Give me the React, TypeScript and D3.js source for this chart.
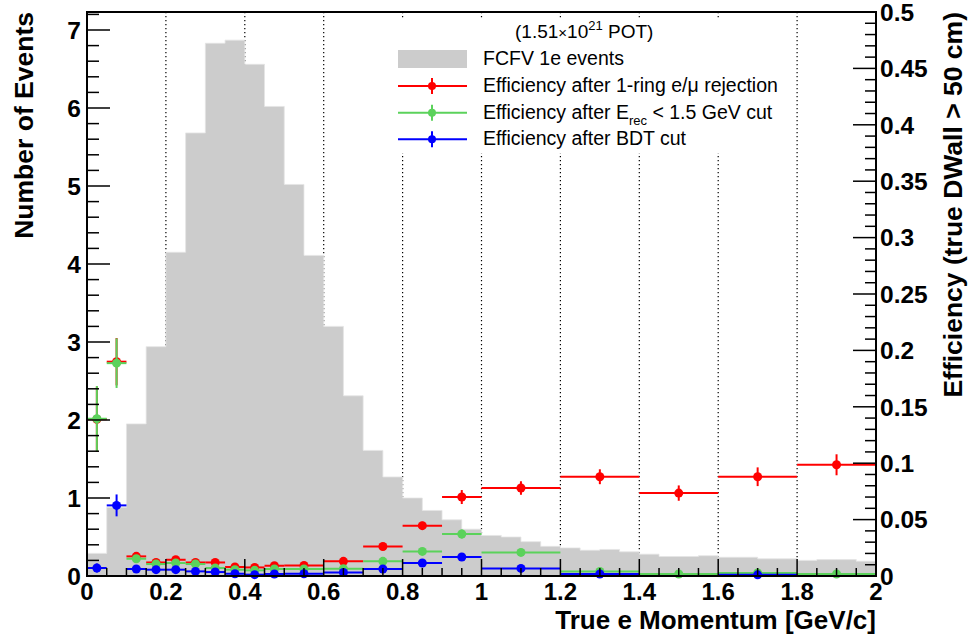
import React from "react";
import * as d3 from "d3";

// ---- data ----
const histBinWidth = 0.05;
const histCounts = [
  0.29, 0.88, 1.95, 2.94, 4.15, 5.68, 6.83, 6.87, 6.56, 6.02,
  5.02, 4.11, 3.2, 2.31, 1.61, 1.27, 1.0, 0.84, 0.72, 0.6,
  0.52, 0.5, 0.44, 0.38, 0.36, 0.33, 0.34, 0.31, 0.28, 0.25,
  0.25, 0.26, 0.24, 0.24, 0.22, 0.22, 0.2, 0.21, 0.21, 0.19,
];
const effEdges = [0, 0.05, 0.1, 0.15, 0.2, 0.25, 0.3, 0.35, 0.4, 0.45, 0.5, 0.6, 0.7, 0.8, 0.9, 1.0, 1.2, 1.4, 1.6, 1.8, 2.0];
const effRing = [0.139, 0.19, 0.0174, 0.012, 0.0144, 0.012, 0.012, 0.008, 0.0076, 0.0091, 0.0094, 0.013, 0.0262, 0.0446, 0.07, 0.078, 0.088, 0.0735, 0.088, 0.0986];
const errRing = [0.029, 0.021, 0.002, 0.0015, 0.0015, 0.0015, 0.0015, 0.0012, 0.0012, 0.0012, 0.001, 0.0015, 0.003, 0.0035, 0.0062, 0.006, 0.0066, 0.0068, 0.0083, 0.0093];
const effErec = [0.1394, 0.1887, 0.0153, 0.0106, 0.0115, 0.0106, 0.0071, 0.0056, 0.005, 0.0062, 0.0062, 0.0065, 0.013, 0.0218, 0.0372, 0.0209, 0.0041, 0.0018, 0.0027, 0.0018];
const errErec = [0.029, 0.022, 0.002, 0.0015, 0.0015, 0.0015, 0.001, 0.001, 0.001, 0.001, 0.001, 0.001, 0.002, 0.0025, 0.004, 0.002, 0.001, 0.0006, 0.001, 0.001];
const effBDT: (number | null)[] = [0.0071, 0.0626, 0.0062, 0.0056, 0.0056, 0.0041, 0.0035, 0.002, 0.0012, 0.0018, 0.002, 0.0032, 0.0062, 0.0115, 0.0168, 0.0067, 0.0018, null, 0.001, null];
const errBDT = [0.004, 0.0097, 0.001, 0.001, 0.001, 0.001, 0.001, 0.0008, 0.0006, 0.0006, 0.0006, 0.0008, 0.001, 0.0015, 0.002, 0.0012, 0.0006, 0, 0.0005, 0];
const xTicks = [0, 0.2, 0.4, 0.6, 0.8, 1, 1.2, 1.4, 1.6, 1.8, 2];
const yLeftTicks = [0, 1, 2, 3, 4, 5, 6, 7];
const yRightTicks = [0, 0.05, 0.1, 0.15, 0.2, 0.25, 0.3, 0.35, 0.4, 0.45, 0.5];
const legendLabels = ["FCFV 1e events", "Efficiency after 1-ring e/\u03bc rejection", "Efficiency after E", "Efficiency after BDT cut"];

const W = 975, H = 634;
const L = 87, R = 876, T = 12, B = 576;
const FONT = "'Liberation Sans', Arial, Helvetica, sans-serif";
const RED = "#ff0000", GREEN = "#5bd25b", BLUE = "#0000ff", GREY = "#cccccc";

export default function App() {
  const x = d3.scaleLinear().domain([0, 2]).range([L, R]);
  const yL = d3.scaleLinear().domain([0, (B - T) / 78]).range([B, T]);
  const yR = d3.scaleLinear().domain([0, 0.5]).range([B, T]);

  const histPts = histCounts.map((c, i) => ({ x: i * histBinWidth, y: c }));
  histPts.push({ x: 2, y: histCounts[histCounts.length - 1] });
  const area = d3.area<{ x: number; y: number }>()
    .x((d) => x(d.x)).y0(yL(0)).y1((d) => yL(d.y)).curve(d3.curveStepAfter);

  const series = [
    { v: effRing, e: errRing, c: RED },
    { v: effErec, e: errErec, c: GREEN },
    { v: effBDT, e: errBDT, c: BLUE },
  ];

  const xMinor = d3.range(0, 41).map((i) => i * 0.05);
  const yLMinor = d3.range(0, 37).map((i) => i * 0.2).filter((v) => yL(v) >= T);
  const yRMinor = d3.range(0, 51).map((i) => i * 0.01);
  const grid = [0.2, 0.4, 0.6, 0.8, 1, 1.2, 1.4, 1.6, 1.8];

  const fmt = (v: number) => String(+v.toFixed(2));

  const legendRows = [59, 86, 112.7, 139.3];
  const lx0 = 398, lx1 = 467, lmx = 432, ltx = 483;

  return (
    <svg width={W} height={H} style={{ position: "absolute", left: 0, top: 0, background: "#fff" }} fontFamily={FONT}>
      <rect x={0} y={0} width={W} height={H} fill="#fff" />
      {/* grid */}
      {grid.map((g) => (
        <line key={g} x1={x(g)} x2={x(g)} y1={T} y2={B} stroke="#000" strokeWidth={1.2} strokeDasharray="1.3 2.7" />
      ))}
      {/* histogram */}
      <path d={area(histPts) || ""} fill={GREY} stroke="#e4e4e4" strokeWidth={0.8} />
      {/* efficiency graphs */}
      {series.map((s, si) => (
        <g key={si}>
          {s.v.map((v, i) => {
            if (v === null) return null;
            const lo = effEdges[i], hi = effEdges[i + 1];
            const cx = x((lo + hi) / 2);
            const cy = yR(v);
            return (
              <g key={i}>
                <line x1={x(lo)} x2={x(hi)} y1={cy} y2={cy} stroke={s.c} strokeWidth={2} />
                <line x1={cx} x2={cx} y1={yR(Math.max(0, v - s.e[i]))} y2={yR(v + s.e[i])} stroke={s.c} strokeWidth={2} />
                <circle cx={cx} cy={cy} r={4.5} fill={s.c} />
              </g>
            );
          })}
        </g>
      ))}
      {/* legend */}
      <rect x={390} y={19} width={400} height={134} fill="#fff" />
      <text x={515} y={38} fontSize={19} fill="#000">
        (1.51<tspan fontSize={15}>{"\u00d7"}</tspan>10<tspan fontSize={13} dy={-8}>21</tspan>
        <tspan dy={8}>{" POT)"}</tspan>
      </text>
      <rect x={lx0} y={50} width={lx1 - lx0} height={18} fill={GREY} />
      <text x={ltx} y={legendRows[0] + 6} fontSize={19.5} fill="#000">{legendLabels[0]}</text>
      {[RED, GREEN, BLUE].map((c, i) => {
        const cy = legendRows[i + 1];
        return (
          <g key={c}>
            <line x1={lx0} x2={lx1} y1={cy} y2={cy} stroke={c} strokeWidth={2} />
            <line x1={lmx} x2={lmx} y1={cy - 8} y2={cy + 8} stroke={c} strokeWidth={2} />
            <circle cx={lmx} cy={cy} r={4} fill={c} />
          </g>
        );
      })}
      <text x={ltx} y={legendRows[1] + 6} fontSize={19.5} fill="#000">{legendLabels[1]}</text>
      <text x={ltx} y={legendRows[2] + 6} fontSize={19.5} fill="#000">
        {legendLabels[2]}<tspan fontSize={13} dy={6}>rec</tspan><tspan dy={-6}>{" < 1.5 GeV cut"}</tspan>
      </text>
      <text x={ltx} y={legendRows[3] + 6} fontSize={19.5} fill="#000">{legendLabels[3]}</text>

      {/* x axis ticks */}
      {xMinor.map((v, i) => {
        const major = i % 4 === 0;
        return <line key={i} x1={x(v)} x2={x(v)} y1={B} y2={B - (major ? 17 : 8)} stroke="#000" strokeWidth={1.5} />;
      })}
      {/* left axis ticks */}
      {yLMinor.map((v, i) => {
        const major = i % 5 === 0;
        return <line key={i} x1={L} x2={L + (major ? 23 : 12)} y1={yL(v)} y2={yL(v)} stroke="#000" strokeWidth={1.5} />;
      })}
      {/* right axis ticks */}
      {yRMinor.map((v, i) => {
        const major = i % 5 === 0;
        return <line key={i} x1={R} x2={R - (major ? 23 : 11)} y1={yR(v)} y2={yR(v)} stroke="#000" strokeWidth={1.5} />;
      })}
      {/* frame */}
      <rect x={L} y={T} width={R - L} height={B - T} fill="none" stroke="#000" strokeWidth={2} />

      {/* tick labels */}
      {xTicks.map((v) => (
        <text key={v} x={x(v)} y={599.5} fontSize={24} fontWeight="bold" textAnchor="middle" fill="#000">{fmt(v)}</text>
      ))}
      {yLeftTicks.map((v) => (
        <text key={v} x={81} y={yL(v) + 8.7} fontSize={24.5} fontWeight="bold" textAnchor="end" fill="#000">{fmt(v)}</text>
      ))}
      {yRightTicks.map((v) => (
        <text key={v} x={880} y={yR(v) + 8.7} fontSize={24.5} fontWeight="bold" textAnchor="start" fill="#000">{fmt(v)}</text>
      ))}

      {/* titles */}
      <text x={R} y={628.5} fontSize={26} fontWeight="bold" textAnchor="end" fill="#000">True e Momentum [GeV/c]</text>
      <text transform={`translate(33,${T}) rotate(-90)`} fontSize={26.5} fontWeight="bold" textAnchor="end" fill="#000">Number of Events</text>
      <text transform={`translate(962,${T}) rotate(-90)`} fontSize={26.5} fontWeight="bold" textAnchor="end" fill="#000">Efficiency (true DWall &gt; 50 cm)</text>
    </svg>
  );
}
